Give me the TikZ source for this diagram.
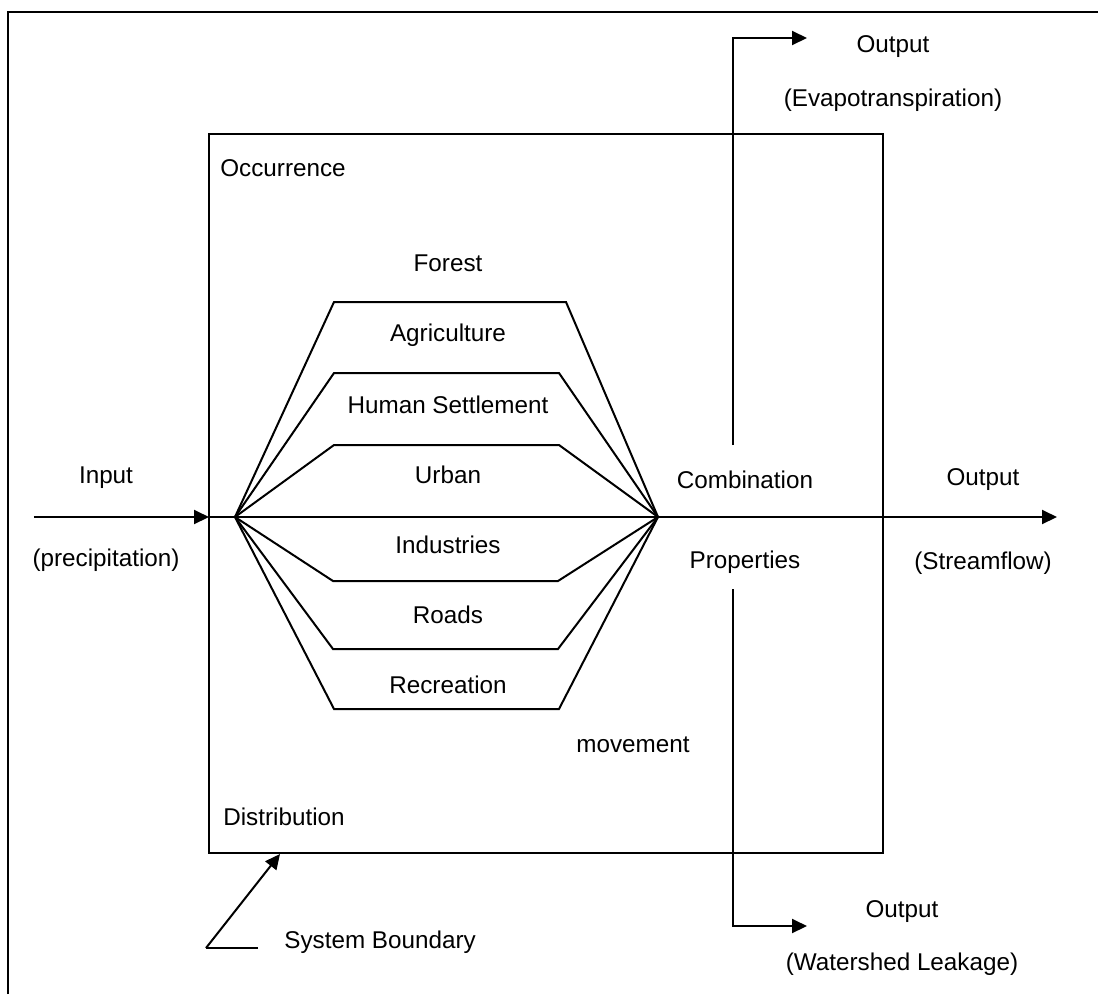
\documentclass[tikz,border=0pt]{standalone}
\usepackage{fontspec}
\setmainfont{Liberation Sans}
\usetikzlibrary{arrows.meta,positioning}

\tikzset{
  lbl/.style={font=\fontsize{13.8}{16}\selectfont, inner sep=0pt},
  edge/.style={line width=0.04cm},
  flow/.style={edge, -{Triangle[length=0.3cm,width=0.28cm]}},
}

\begin{document}
\begin{tikzpicture}[x=1cm,y=-1cm]
\useasboundingbox (0,0) rectangle (21.96,19.88);

% Page frame (cut at right and bottom)
\draw[edge] (0.16,19.88) -- (0.16,0.24) -- (21.96,0.24);

% System boundary
\draw[edge] (4.18,2.68) rectangle (17.66,17.06);

% Fan points
\coordinate (fanL) at (4.70,10.34);
\coordinate (fanR) at (13.16,10.34);

% Land use bands
\draw[edge] (fanL) -- (6.68,6.04) -- (11.32,6.04) -- (fanR);
\draw[edge] (fanL) -- (6.68,7.46) -- (11.18,7.46) -- (fanR);
\draw[edge] (fanL) -- (6.68,8.90) -- (11.18,8.90) -- (fanR);
\draw[edge] (fanL) -- (6.66,11.62) -- (11.16,11.62) -- (fanR);
\draw[edge] (fanL) -- (6.66,12.98) -- (11.16,12.98) -- (fanR);
\draw[edge] (fanL) -- (6.68,14.18) -- (11.18,14.18) -- (fanR);

% Input and streamflow
\coordinate (inStart) at (0.68,10.34);
\coordinate (inEnd) at (4.18,10.34);
\coordinate (outEnd) at (21.14,10.34);
\draw[flow] (inStart) -- (inEnd);
\draw[edge] (inEnd) -- (fanL) -- (fanR);
\draw[flow] (fanR) -- (outEnd);

% Evapotranspiration
\coordinate (evapStart) at (14.66,8.90);
\coordinate (evapTurn) at (14.66,0.76);
\coordinate (evapEnd) at (16.14,0.76);
\draw[flow] (evapStart) -- (evapTurn) -- (evapEnd);

% Watershed leakage
\coordinate (leakStart) at (14.66,11.78);
\coordinate (leakTurn) at (14.66,18.52);
\coordinate (leakEnd) at (16.14,18.52);
\draw[flow] (leakStart) -- (leakTurn) -- (leakEnd);

% Boundary pointer
\coordinate (sbTail) at (5.16,18.96);
\coordinate (sbStart) at (4.12,18.96);
\coordinate (sbTip) at (5.60,17.08);
\draw[edge] (sbTail) -- (sbStart);
\draw[flow] (sbStart) -- (sbTip);

% Labels inside
\node[lbl] (forest) at (8.96,5.26) {Forest};
\node[lbl] (agri) at (8.96,6.70) {Agriculture};
\node[lbl] (human) at (8.96,8.10) {Human Settlement};
\node[lbl] (urban) at (8.96,9.50) {Urban};
\node[lbl] (indus) at (8.96,10.90) {Industries};
\node[lbl] (roads) at (8.96,12.30) {Roads};
\node[lbl] (recr) at (8.96,13.70) {Recreation};

\node[lbl, anchor=west] (occur) at (4.40,3.36) {Occurrence};
\node[lbl, anchor=west] (distr) at (4.46,16.34) {Distribution};
\node[lbl] (move) at (12.66,14.90) {movement};
\node[lbl] (combi) at (14.90,9.60) {Combination};
\node[lbl] (props) at (14.90,11.24) {Properties};

% Labels outside
\node[lbl] (input) at (2.12,9.56) {Input};
\node[lbl] (precip) at (2.12,11.20) {(precipitation)};
\node[lbl] (outS) at (19.66,9.60) {Output};
\node[lbl] (stream) at (19.66,11.26) {(Streamflow)};
\node[lbl] (outE) at (17.86,0.94) {Output};
\node[lbl] (evap) at (17.86,2.00) {(Evapotranspiration)};
\node[lbl] (outL) at (18.04,18.24) {Output};
\node[lbl] (leak) at (18.04,19.28) {(Watershed Leakage)};
\node[lbl, anchor=west] (sysb) at (5.68,18.84) {System Boundary};
\end{tikzpicture}
\end{document}
